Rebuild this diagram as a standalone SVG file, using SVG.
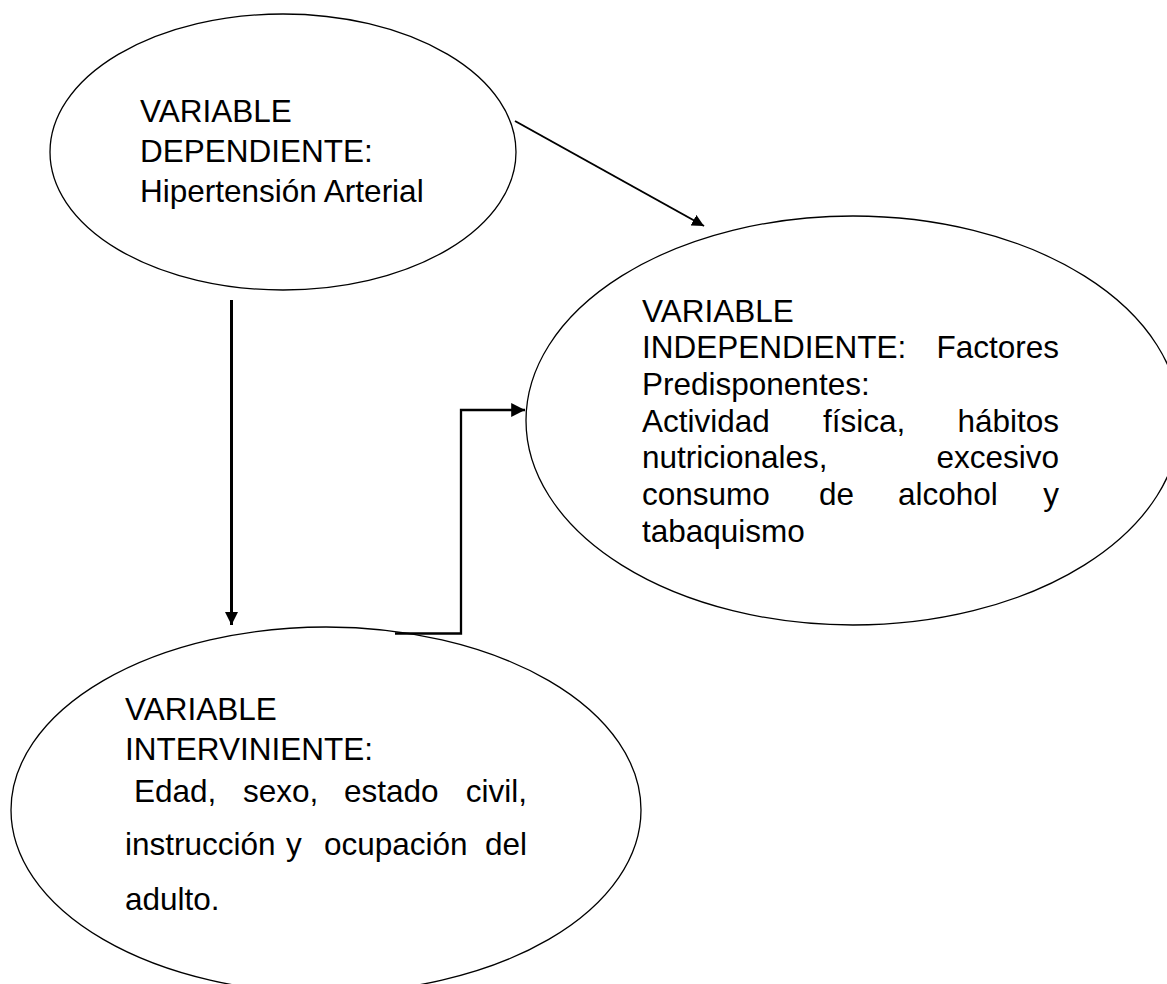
<svg xmlns="http://www.w3.org/2000/svg" width="1167" height="984" viewBox="0 0 1167 984">
<style>
  .node ellipse { fill: #fff; stroke: #000; stroke-width: 1.3; }
  .node text { font-family: "Liberation Sans", Arial, sans-serif; font-size: 31.5px; fill: #000; }
  .node text.r { text-anchor: end; }
  .conn { fill: none; stroke: #000; }
</style>
<defs>
  <marker id="arr" viewBox="0 0 10 10" refX="10" refY="5" markerWidth="6" markerHeight="6" markerUnits="strokeWidth" orient="auto">
    <path d="M0,0 L10,5 L0,10 Z" fill="#000"/>
  </marker>
  <marker id="arrS" viewBox="0 0 10 10" refX="10" refY="5" markerWidth="4.5" markerHeight="5" markerUnits="strokeWidth" orient="auto">
    <path d="M0,0 L10,5 L0,10 Z" fill="#000"/>
  </marker>
</defs>
<rect width="1167" height="984" fill="#fff"/>

<g id="dependiente" class="node">
  <ellipse cx="283" cy="152" rx="233" ry="138"/>
  <text x="140" y="122">VARIABLE</text>
  <text x="140" y="162">DEPENDIENTE:</text>
  <text x="140" y="202">Hipertensión Arterial</text>
</g>

<g id="independiente" class="node">
  <ellipse cx="853" cy="420.5" rx="327" ry="204.5"/>
  <text x="642" y="322">VARIABLE</text>
  <text x="642" y="358">INDEPENDIENTE:</text>
  <text class="r" x="1059" y="358">Factores</text>
  <text x="642" y="395">Predisponentes:</text>
  <text x="642" y="432">Actividad</text>
  <text x="823" y="432">física,</text>
  <text class="r" x="1059" y="432">hábitos</text>
  <text x="642" y="468">nutricionales,</text>
  <text class="r" x="1059" y="468">excesivo</text>
  <text x="642" y="505">consumo</text>
  <text x="819" y="505">de</text>
  <text x="898" y="505">alcohol</text>
  <text class="r" x="1059" y="505">y</text>
  <text x="642" y="542">tabaquismo</text>
</g>

<g id="interviniente" class="node">
  <ellipse cx="326" cy="810" rx="315" ry="183"/>
  <text x="125" y="720">VARIABLE</text>
  <text x="125" y="760">INTERVINIENTE:</text>
  <text x="134" y="802">Edad,</text>
  <text x="243" y="802">sexo,</text>
  <text x="344" y="802">estado</text>
  <text class="r" x="527" y="802">civil,</text>
  <text x="125" y="855">instrucción</text>
  <text x="286" y="855">y</text>
  <text x="324" y="855">ocupación</text>
  <text class="r" x="527" y="855">del</text>
  <text x="125" y="910">adulto.</text>
</g>

<g id="connectors">
  <line class="conn" x1="515" y1="121" x2="704" y2="226" stroke-width="2" marker-end="url(#arr)"/>
  <line class="conn" x1="231.5" y1="300" x2="231.5" y2="625" stroke-width="3" marker-end="url(#arrS)"/>
  <polyline class="conn" points="395,633.5 461,633.5 461,410 525,410" stroke-width="2.3" marker-end="url(#arr)"/>
</g>
</svg>
